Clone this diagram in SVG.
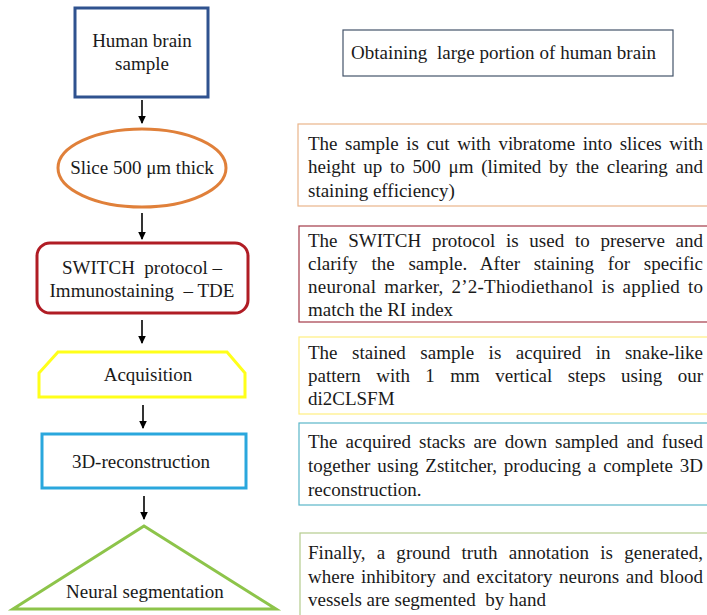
<svg xmlns="http://www.w3.org/2000/svg" width="707" height="615" viewBox="0 0 707 615">
<style>
text{font-family:"Liberation Serif","Times New Roman",serif;font-size:19px;fill:#1a1a1a;white-space:pre}
.c{text-anchor:middle}
.node{fill:#fff;stroke-width:3}
.desc{fill:#fff;stroke-width:1.2}
.conn{stroke:#000;stroke-width:1.6;fill:none;marker-end:url(#ah)}
</style>
<defs>
<marker id="ah" viewBox="0 0 8 10" refX="7" refY="5" markerWidth="8" markerHeight="10" markerUnits="userSpaceOnUse" orient="auto">
<path d="M0,1.2 L8,5 L0,8.8 Z" fill="#000"/>
</marker>
</defs>
<rect width="707" height="615" fill="#fff"/>

<g id="connectors">
<line class="conn" x1="142" y1="100" x2="142" y2="123"/>
<line class="conn" x1="142" y1="213" x2="142" y2="239"/>
<line class="conn" x1="142" y1="320" x2="142" y2="343"/>
<line class="conn" x1="143" y1="405" x2="143" y2="428"/>
<line class="conn" x1="144" y1="496" x2="144" y2="519"/>
</g>

<g id="n-human">
<rect class="node" x="75" y="8" width="133" height="89" stroke="#2F528F"/>
<text class="c" x="142" y="47">Human brain</text>
<text class="c" x="142" y="70">sample</text>
</g>
<g id="n-slice">
<ellipse class="node" cx="142" cy="168" rx="84" ry="39" stroke="#E0803A"/>
<text class="c" x="142" y="174">Slice 500 μm thick</text>
</g>
<g id="n-switch">
<rect class="node" x="37" y="243" width="211" height="70" rx="13" stroke="#B01C24"/>
<text class="c" x="142" y="274" xml:space="preserve">SWITCH  protocol –</text>
<text class="c" x="142" y="297" xml:space="preserve">Immunostaining  – TDE</text>
</g>
<g id="n-acq">
<polygon class="node" points="58,352 227,352 245,373 245,397 39,397 39,373" stroke="#FFFF1A"/>
<text class="c" x="148" y="381">Acquisition</text>
</g>
<g id="n-3d">
<rect class="node" x="42" y="434" width="204" height="54" stroke="#2AA7DD"/>
<text class="c" x="141" y="468">3D-reconstruction</text>
</g>
<g id="n-neural">
<polygon class="node" points="144,526 276,609 13,609" stroke="#8DC44A"/>
<text class="c" x="145" y="598">Neural segmentation</text>
</g>

<g id="d-obtain">
<rect class="desc" x="343" y="30" width="330" height="46" stroke="#44546A"/>
<text x="351" y="59" textLength="305" lengthAdjust="spacing" xml:space="preserve">Obtaining  large portion of human brain</text>
</g>
<g id="d-slice">
<rect class="desc" x="298" y="124" width="420" height="82" stroke="#EAB58A"/>
<text x="308" y="150" word-spacing="2.9" textLength="395" lengthAdjust="spacing">The sample is cut with vibratome into slices with</text>
<text x="308" y="173" word-spacing="3" textLength="395" lengthAdjust="spacing">height up to 500 μm (limited by the clearing and</text>
<text x="308" y="197">staining efficiency)</text>
</g>
<g id="d-switch">
<rect class="desc" x="299" y="226" width="420" height="96" stroke="#A33A48"/>
<text x="308" y="247" word-spacing="6" textLength="395" lengthAdjust="spacing">The SWITCH protocol is used to preserve and</text>
<text x="308" y="270" word-spacing="8.9" textLength="395" lengthAdjust="spacing">clarify the sample. After staining for specific</text>
<text x="308" y="293" word-spacing="3" textLength="395" lengthAdjust="spacing">neuronal marker, 2’2-Thiodiethanol is applied to</text>
<text x="308" y="316">match the RI index</text>
</g>
<g id="d-acq">
<rect class="desc" x="299" y="337" width="420" height="77" stroke="#FFEE80"/>
<text x="308" y="359" word-spacing="9.7" textLength="395" lengthAdjust="spacing">The stained sample is acquired in snake-like</text>
<text x="308" y="382" word-spacing="10.7" textLength="395" lengthAdjust="spacing">pattern with 1 mm vertical steps using our</text>
<text x="308" y="405">di2CLSFM</text>
</g>
<g id="d-3d">
<rect class="desc" x="299" y="423" width="420" height="82" stroke="#5AB6C8"/>
<text x="308" y="448" word-spacing="3.3" textLength="395" lengthAdjust="spacing">The acquired stacks are down sampled and fused</text>
<text x="308" y="472" word-spacing="2.1" textLength="395" lengthAdjust="spacing">together using Zstitcher, producing a complete 3D</text>
<text x="308" y="496">reconstruction.</text>
</g>
<g id="d-neural">
<rect class="desc" x="300" y="533" width="420" height="100" stroke="#B5CC8E"/>
<text x="308" y="559" word-spacing="6.4" textLength="395" lengthAdjust="spacing">Finally, a ground truth annotation is generated,</text>
<text x="308" y="583" word-spacing="1.8" textLength="395" lengthAdjust="spacing">where inhibitory and excitatory neurons and blood</text>
<text x="308" y="606" xml:space="preserve">vessels are segmented  by hand</text>
</g>
</svg>
